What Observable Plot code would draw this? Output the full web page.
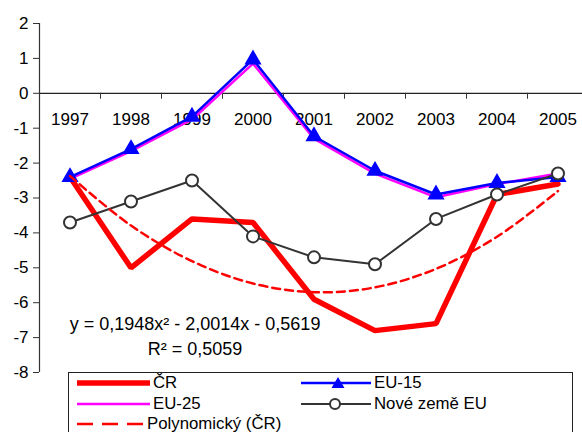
<!DOCTYPE html>
<html>
<head>
<meta charset="utf-8">
<script src="https://cdn.jsdelivr.net/npm/d3@7"></script>
<script src="https://cdn.jsdelivr.net/npm/@observablehq/plot@0.6"></script>
<style>
  body { margin: 0; background: #fff; font-family: "Liberation Sans", Arial, sans-serif; }
  #wrap { position: relative; width: 582px; height: 432px; overflow: hidden; }
  #legend { position: absolute; left: 68px; top: 372px; width: 503px; height: 70px; border: 1px solid #222; background: #fff; font-size: 16.8px; color: #000; }
  #legend .it { position: absolute; }
  #legend svg { position: absolute; overflow: visible; }
</style>
</head>
<body>
<div id="wrap"></div>
<script>
const years = [1997, 1998, 1999, 2000, 2001, 2002, 2003, 2004, 2005];
const cr    = [-2.4, -5.0, -3.6, -3.7, -5.9, -6.8, -6.6, -2.9, -2.6];
const eu15  = [-2.4, -1.6, -0.67, 0.97, -1.23, -2.22, -2.9, -2.57, -2.4];
const eu25  = [-2.45, -1.66, -0.75, 0.85, -1.3, -2.3, -2.98, -2.6, -2.3];
const nove  = [-3.7, -3.1, -2.5, -4.1, -4.7, -4.9, -3.6, -2.9, -2.3];
const polyCR = [-2.37, -3.79, -4.81, -5.45, -5.70, -5.56, -5.03, -4.11, -2.80];
const yTicks = [-8, -7, -6, -5, -4, -3, -2, -1, 0, 1, 2];
const equation = ["y = 0,1948x² - 2,0014x - 0,5619", "R² = 0,5059"];

const rows = (vals) => years.map((y, i) => ({year: y, value: vals[i]}));
const boundaries = d3.range(years.length + 1).map(i => years[0] - 0.5 + i);
const font = "Liberation Sans, Arial, sans-serif";

const chart = Plot.plot({
  width: 582,
  height: 432,
  marginTop: 23,
  marginBottom: 60,
  marginLeft: 39,
  marginRight: 0,
  style: {fontFamily: font, fontSize: "17px", color: "#000", background: "#fff"},
  x: {type: "linear", domain: [years[0] - 0.5, years[years.length - 1] + 0.5], range: [39, 588], axis: null},
  y: {domain: [-8, 2], label: null},
  marks: [
    Plot.axisY({ticks: yTicks, tickSize: 6, tickPadding: 5, fontSize: 17, label: null, tickFormat: d => d < 0 ? "-" + Math.abs(d) : String(d), stroke: "#333"}),
    Plot.ruleX([years[0] - 0.5], {stroke: "#333", strokeWidth: 1.2}),
    Plot.ruleY([0], {stroke: "#222", strokeWidth: 1.2}),
    Plot.ruleX(boundaries, {y1: () => 0, y2: () => -0.17, stroke: "#333"}),
    Plot.text(years, {x: d => d, y: () => 0, dy: 26, text: d => String(d), fontSize: 17, fill: "#000"}),
    Plot.line(rows(cr), {x: "year", y: "value", stroke: "#ff0000", strokeWidth: 5.5, strokeLinejoin: "miter"}),
    Plot.line(rows(eu25), {x: "year", y: "value", stroke: "#ff00ff", strokeWidth: 2.5}),
    Plot.line(rows(eu15), {x: "year", y: "value", stroke: "#0000ff", strokeWidth: 2.5}),
    Plot.dot(rows(eu15), {x: "year", y: "value", symbol: "triangle", r: 5.4, fill: "#0000ff", stroke: "#0000ff"}),
    Plot.line(rows(nove), {x: "year", y: "value", stroke: "#333", strokeWidth: 2}),
    Plot.dot(rows(nove), {x: "year", y: "value", r: 6, fill: "#fff", stroke: "#333", strokeWidth: 2}),
    Plot.line(rows(polyCR), {x: "year", y: "value", stroke: "#ff0000", strokeWidth: 2.5, strokeDasharray: "8,5", curve: "catmull-rom"}),
    Plot.text(equation, {x: () => 1999.05, y: (d, i) => i === 0 ? -6.62 : -7.33, text: d => d, fontSize: 18, fill: "#000"})
  ]
});

const wrap = document.getElementById("wrap");
wrap.appendChild(chart);

const legendItems = [
  {label: "ČR", left: 8, row: 0, stroke: "#ff0000", sw: 5.5, dash: null, marker: null, len: 73},
  {label: "EU-15", left: 232, row: 0, stroke: "#0000ff", sw: 2.5, dash: null, marker: "tri", len: 70},
  {label: "EU-25", left: 8, row: 1, stroke: "#ff00ff", sw: 2.5, dash: null, marker: null, len: 73},
  {label: "Nové země EU", left: 232, row: 1, stroke: "#333", sw: 2, dash: null, marker: "circ", len: 70},
  {label: "Polynomický (ČR)", left: 8, row: 2, stroke: "#ff0000", sw: 2.5, dash: "16,9", marker: null, len: 67}
];
const legend = document.createElement("div");
legend.id = "legend";
const rowY = [10, 31, 51];
for (const it of legendItems) {
  const ns = "http://www.w3.org/2000/svg";
  const svg = document.createElementNS(ns, "svg");
  svg.setAttribute("width", it.len);
  svg.setAttribute("height", 14);
  svg.style.left = it.left + "px";
  svg.style.top = (rowY[it.row] - 7) + "px";
  const ln = document.createElementNS(ns, "line");
  ln.setAttribute("x1", 0); ln.setAttribute("x2", it.len);
  ln.setAttribute("y1", 7); ln.setAttribute("y2", 7);
  ln.setAttribute("stroke", it.stroke);
  ln.setAttribute("stroke-width", it.sw);
  if (it.dash) ln.setAttribute("stroke-dasharray", it.dash);
  svg.appendChild(ln);
  if (it.marker === "tri") {
    const p = document.createElementNS(ns, "path");
    const cx = it.len / 2 + 2;
    p.setAttribute("d", `M${cx},1 L${cx + 6.5},12 L${cx - 6.5},12 Z`);
    p.setAttribute("fill", "#0000ff");
    svg.appendChild(p);
  } else if (it.marker === "circ") {
    const c = document.createElementNS(ns, "circle");
    c.setAttribute("cx", it.len / 2 - 1); c.setAttribute("cy", 7); c.setAttribute("r", 5);
    c.setAttribute("fill", "#fff"); c.setAttribute("stroke", "#333"); c.setAttribute("stroke-width", 2);
    svg.appendChild(c);
  }
  legend.appendChild(svg);
  const t = document.createElement("div");
  t.className = "it";
  t.textContent = it.label;
  t.style.left = (it.left + it.len + 3) + "px";
  t.style.top = (rowY[it.row] - 10) + "px";
  t.style.lineHeight = "20px";
  legend.appendChild(t);
}
wrap.appendChild(legend);
</script>
</body>
</html>
